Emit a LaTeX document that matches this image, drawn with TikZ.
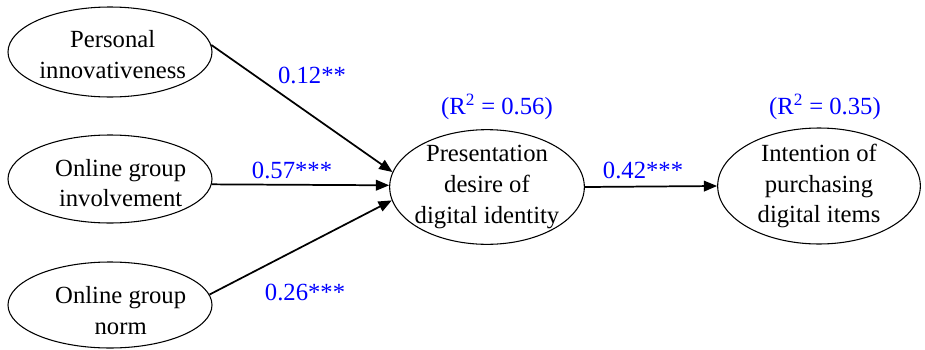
\documentclass[tikz,border=0pt]{standalone}
\usepackage{fontspec}
\setmainfont{Liberation Serif}
\usetikzlibrary{shapes.geometric,arrows.meta}

\tikzset{
  construct/.style={draw, ellipse, line width=0.8pt, inner sep=0pt},
  inner/.style={align=center},
  path/.style={line width=1.3pt, -{Triangle[length=10pt,width=8pt]}},
  coef/.style={text=blue},
}

\begin{document}
\begin{tikzpicture}[x=0.75pt, y=-0.75pt, font=\fontsize{18.5}{23}\selectfont]
    \useasboundingbox (0,0) rectangle (925,350);

    %% the constructs
    \node[construct, minimum width=153pt, minimum height=67.5pt,
      label={[inner, xshift=2pt, yshift=-2pt]center:Personal\\innovativeness}] (pi) at (110,52) {};
    \node[construct, minimum width=153pt, minimum height=66pt,
      label={[inner, xshift=8pt, yshift=-3pt]center:Online group\\involvement}] (ogi) at (110,179) {};
    \node[construct, minimum width=153pt, minimum height=64.5pt,
      label={[inner, xshift=8pt, yshift=-4pt]center:Online group\\norm}] (ogn) at (110,305) {};
    \node[construct, minimum width=146pt, minimum height=86pt,
      label={[inner]center:Presentation\\desire of\\digital identity}] (pd) at (487,187) {};
    \node[construct, minimum width=152pt, minimum height=87pt,
      label={[inner]center:Intention of\\purchasing\\digital items}] (ip) at (819,186) {};

    %% the paths
    \draw[path] (pi.4) -- (pd.171);
    \draw[path] (ogi.-3) -- (pd.179);
    \draw[path] (ogn.6) -- (pd.188);
    \draw[path] (pd.east) -- (ip.west);

    %% coefficients
    \node[coef] (c1) at (312,75) {0.12**};
    \node[coef] (c2) at (292,170) {0.57***};
    \node[coef] (c3) at (305,292) {0.26***};
    \node[coef] (c4) at (643,170) {0.42***};

    %% explained variance
    \node[coef] (r1) at (497,107) {(R\textsuperscript{2} = 0.56)};
    \node[coef] (r2) at (825,107) {(R\textsuperscript{2} = 0.35)};
\end{tikzpicture}
\end{document}
